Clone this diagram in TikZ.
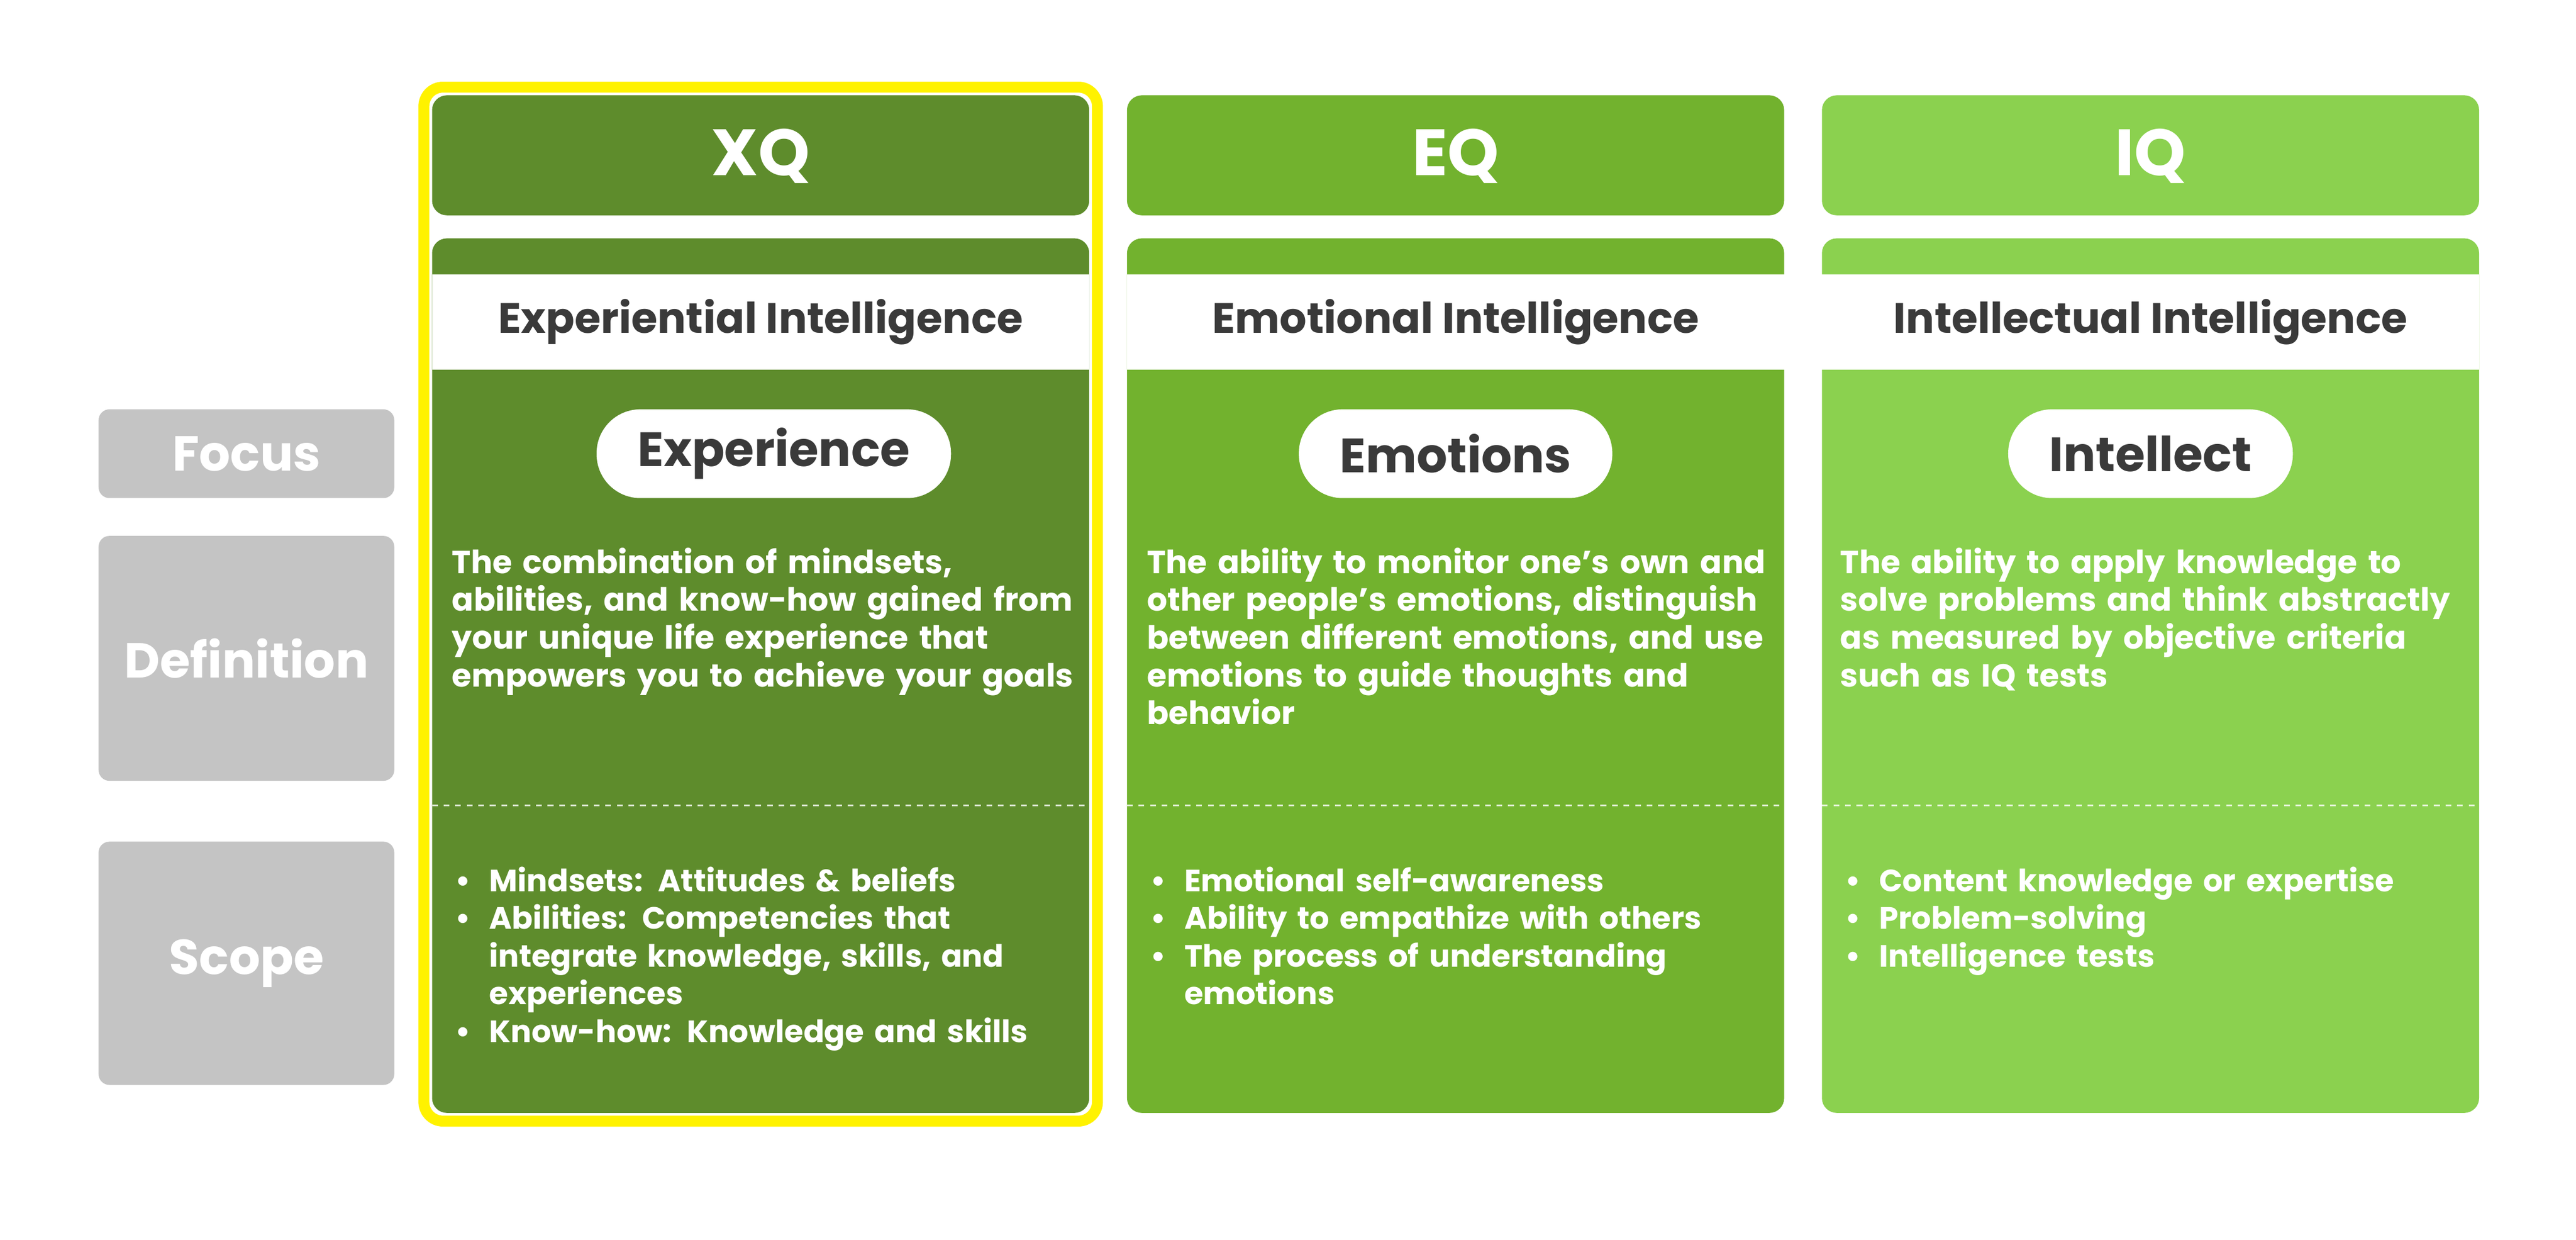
\documentclass[tikz,border=0pt]{standalone}
\usepackage{fontspec}
\setmainfont{Poppins}[UprightFont=* SemiBold,BoldFont=* Bold]
\definecolor{xqc}{HTML}{5E8C2C}
\definecolor{eqc}{HTML}{72B22E}
\definecolor{iqc}{HTML}{8BD14F}
\definecolor{greyc}{HTML}{C4C4C4}
\definecolor{yel}{HTML}{FFF200}
\definecolor{dark}{HTML}{3A3A3A}
\newcommand{\nohy}{\raggedright\hyphenpenalty=10000\exhyphenpenalty=10000 }
\tikzset{
  hdr/.style={rounded corners=0.27cm},
  hdrtext/.style={text=white,font=\fontsize{34}{34}\selectfont\bfseries},
  band/.style={fill=white},
  bandtext/.style={text=dark,font=\fontsize{22}{24}\selectfont\bfseries},
  pill/.style={fill=white,rounded corners=0.8cm,inner xsep=0.75cm,minimum height=1.62cm,text=dark,font=\fontsize{25}{28}\selectfont\bfseries},
  deftext/.style={anchor=north west,text=white,text width=11.7cm,inner sep=0pt,font=\fontsize{16.6}{19.6}\selectfont\bfseries,execute at begin node=\nohy},
  lab/.style={fill=greyc,rounded corners=0.2cm,text=white,font=\fontsize{25.5}{28}\selectfont\bfseries},
  dline/.style={white,dashed,line width=0.8pt,opacity=0.8},
}
\newcommand{\bul}[1]{\hangindent=0.62cm\hangafter=1\makebox[0.62cm][l]{\textbullet}#1\par}
\begin{document}
\begin{tikzpicture}[x=0.03cm,y=-0.03cm]
\fill[white] (0,0) rectangle (1568,754);
\useasboundingbox (0,0) rectangle (1568,754);
% yellow frame
\draw[yel,line width=0.2cm,rounded corners=0.35cm] (258,53) rectangle (668,682);
% left labels
\node[lab,minimum width=5.4cm,minimum height=1.62cm] (lfocus) at (150,276) {Focus};
\node[lab,minimum width=5.4cm,minimum height=4.47cm] (ldef) at (150,400.5) {Definition};
\node[lab,minimum width=5.4cm,minimum height=4.44cm] (lscope) at (150,586) {Scope};
% columns
\foreach \x/\c/\h/\b/\p/\px in {263/xqc/XQ/Experiential Intelligence/Experience/471,686/eqc/EQ/Emotional Intelligence/Emotions/886,1109/iqc/IQ/Intellectual Intelligence/Intellect/1309}{
  \fill[\c,hdr] (\x,58) rectangle ++(400,73);
  \node[hdrtext] at (\x+200,95) {\h};
  \fill[\c,hdr] (\x,145) rectangle ++(400,532);
  \fill[band] (\x,167) rectangle ++(400,58);
  \node[bandtext] at (\x+200,196) {\b};
  \node[pill] at (\px,276) {\p};
  \draw[dline] (\x,490) -- ++(400,0);
}
\node[deftext] (dxq) at (275,333) {The combination of mindsets, abilities, and know-how gained from your unique life experience that empowers you to achieve your goals};
\node[deftext] (deq) at (698,333) {The ability to monitor one's own and other people’s emotions, distinguish between different emotions, and use emotions to guide thoughts and behavior};
\node[deftext] (diq) at (1120,333) {The ability to apply knowledge to solve problems and think abstractly as measured by objective criteria such as IQ tests};
\node[deftext,text width=11.3cm,font=\fontsize{16}{19.6}\selectfont\bfseries] (sxq) at (277,527) {\bul{Mindsets: Attitudes \& beliefs}\bul{Abilities: Competencies that integrate knowledge, skills, and experiences}\bul{Know-how: Knowledge and skills}};
\node[deftext,text width=11.3cm,font=\fontsize{16}{19.6}\selectfont\bfseries] (seq) at (700,527) {\bul{Emotional self-awareness}\bul{Ability to empathize with others}\bul{The process of understanding emotions}};
\node[deftext,text width=11.3cm,font=\fontsize{16}{19.6}\selectfont\bfseries] (siq) at (1123,527) {\bul{Content knowledge or expertise}\bul{Problem-solving}\bul{Intelligence tests}};
\end{tikzpicture}
\end{document}
